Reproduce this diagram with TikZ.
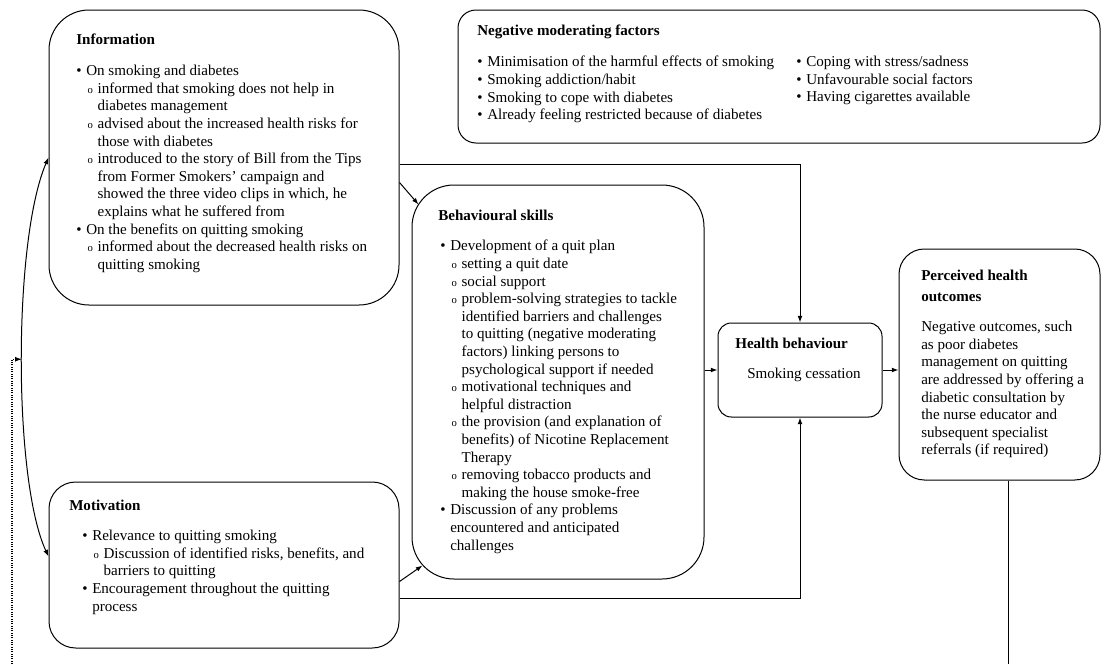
\documentclass[tikz,border=0pt]{standalone}
\usepackage{fontspec}
\setmainfont{Liberation Serif}
\usetikzlibrary{arrows.meta,calc,fit}

% list marks
\newcommand{\pbul}{\makebox[7.5pt][l]{\textbullet}}
\newcommand{\pcir}{\hspace*{8.5pt}\makebox[7.5pt][l]{\fontsize{8}{8}\selectfont o}}
\newcommand{\pind}{\hspace*{16pt}}
\newcommand{\pcont}{\hspace*{7.5pt}}

\tikzset{
  rbox/.style={draw, line width=0.75pt, inner sep=0pt},
  txt/.style={inner sep=0pt, align=left, anchor=north west, font=\fontsize{11.3}{13.2}\selectfont},
  ttl/.style={txt, font=\fontsize{11.3}{13.2}\selectfont\bfseries},
  arr/.style={line width=0.75pt, -{Latex[length=5pt,width=3.6pt]}},
  barr/.style={line width=0.75pt, {Latex[length=5pt,width=3.6pt]}-{Latex[length=5pt,width=3.6pt]}}
}

\begin{document}
\begin{tikzpicture}[x=0.75pt, y=-0.75pt]
    \useasboundingbox (0,0) rectangle (1102,664);

    % Boxes
    \node[rbox, rounded corners=30pt, fit={(49,10) (399,305)}] (info) {};
    \node[rbox, rounded corners=13.5pt, fit={(458,10) (1100,143)}] (neg) {};
    \node[rbox, rounded corners=31.5pt, fit={(412,185) (704,579)}] (bsk) {};
    \node[rbox, rounded corners=10pt, fit={(718,323) (882,417)}] (hb) {};
    \node[rbox, rounded corners=19pt, fit={(899,249) (1100,480)}] (pho) {};
    \node[rbox, rounded corners=20pt, fit={(49,482) (399,648)}] (mot) {};

    % Information
    \node[ttl] (infoT) at (76,34) {Information};
    \node[txt] (infoB) at (76,65) {\pbul On smoking and diabetes\\
        \pcir informed that smoking does not help in\\
        \pind diabetes management\\
        \pcir advised about the increased health risks for\\
        \pind those with diabetes\\
        \pcir introduced to the story of Bill from the Tips\\
        \pind from Former Smokers’ campaign and\\
        \pind showed the three video clips in which, he\\
        \pind explains what he suffered from\\
        \pbul On the benefits on quitting smoking\\
        \pcir informed about the decreased health risks on\\
        \pind quitting smoking};

    % Negative moderating factors
    \node[ttl] (negT) at (477,25) {Negative moderating factors};
    \node[txt] (negA) at (477,56) {\pbul Minimisation of the harmful effects of smoking\\
        \pbul Smoking addiction/habit\\
        \pbul Smoking to cope with diabetes\\
        \pbul Already feeling restricted because of diabetes};
    \node[txt] (negB) at (796,56) {\pbul Coping with stress/sadness\\
        \pbul Unfavourable social factors\\
        \pbul Having cigarettes available};

    % Behavioural skills
    \node[ttl] (bskT) at (438,210) {Behavioural skills};
    \node[txt] (bskB) at (440,240) {\pbul Development of a quit plan\\
        \pcir setting a quit date\\
        \pcir social support\\
        \pcir problem-solving strategies to tackle\\
        \pind identified barriers and challenges\\
        \pind to quitting (negative moderating\\
        \pind factors) linking persons to\\
        \pind psychological support if needed\\
        \pcir motivational techniques and\\
        \pind helpful distraction\\
        \pcir the provision (and explanation of\\
        \pind benefits) of Nicotine Replacement\\
        \pind Therapy\\
        \pcir removing tobacco products and\\
        \pind making the house smoke-free\\
        \pbul Discussion of any problems\\
        \pcont encountered and anticipated\\
        \pcont challenges};

    % Health behaviour
    \node[ttl] (hbT) at (735,338) {Health behaviour};
    \node[txt] (hbB) at (747,368) {Smoking cessation};

    % Perceived health outcomes
    \node[ttl] (phoT) at (921,270) {Perceived health\\[2.5pt]outcomes};
    \node[txt] (phoB) at (921,321) {Negative outcomes, such\\
        as poor diabetes\\
        management on quitting\\
        are addressed by offering a\\
        diabetic consultation by\\
        the nurse educator and\\
        subsequent specialist\\
        referrals (if required)};

    % Motivation
    \node[ttl] (motT) at (69,500) {Motivation};
    \node[txt] (motB) at (82,530) {\pbul Relevance to quitting smoking\\
        \pcir Discussion of identified risks, benefits, and\\
        \pind barriers to quitting\\
        \pbul Encouragement throughout the quitting\\
        \pcont process};

    % Connectors
    \draw[arr] ($(info.north east)+(0,173)$) -- ($(bsk.north west)+(7,20)$);
    \draw[arr] ($(mot.north east)+(0,100)$) -- ($(bsk.south west)+(11,-14)$);
    \draw[arr] ($(info.north east)+(0,155)$) -| (hb.north);
    \draw[arr] ($(mot.north east)+(0,117)$) -| (hb.south);
    \draw[arr] (bsk.east |- hb.west) -- (hb.west);
    \draw[arr] (hb.east) -- (pho.west |- hb.east);

    % Information <-> Motivation
    \draw[barr] (info.west) .. controls (13,240) and (13,480) .. ($(mot.north west)+(0,75)$)
        coordinate[pos=0.5] (mid);

    % Feedback loop
    \coordinate (fbr) at (1008,664);
    \coordinate (fbl) at (12,664);
    \draw[line width=0.75pt] (pho.south -| fbr) -- (fbr);
    \draw[arr, densely dotted, line width=0.8pt] (fbl) |- (mid);
\end{tikzpicture}
\end{document}
